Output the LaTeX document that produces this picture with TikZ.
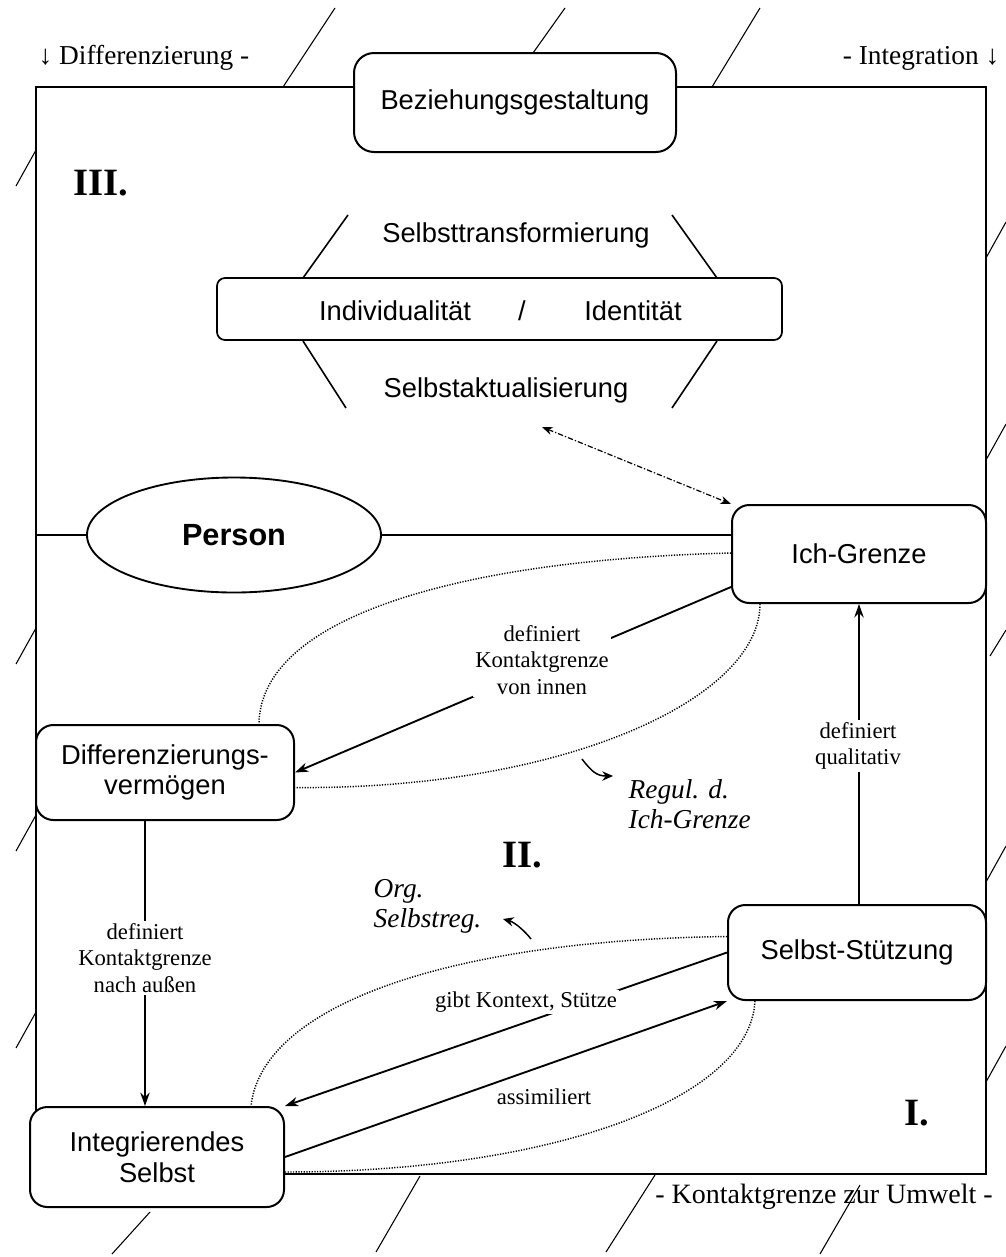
\documentclass[tikz,border=0pt]{standalone}
\usepackage{fontspec}
\setmainfont{Liberation Serif}
\setsansfont{Liberation Sans}
\usetikzlibrary{shapes.geometric,arrows.meta,calc}
\newcommand\fsans{\sffamily\fontsize{20.5}{23}\selectfont}
\newcommand\flab{\rmfamily\fontsize{17}{20}\selectfont}
\newcommand\fital{\rmfamily\itshape\fontsize{20.5}{22.5}\selectfont}
\newcommand\fnum{\rmfamily\bfseries\fontsize{29}{32}\selectfont}
\newcommand\ftop{\rmfamily\fontsize{20.5}{24}\selectfont}
\newcommand\fbot{\rmfamily\fontsize{21}{24}\selectfont}
\begin{document}
\begin{tikzpicture}[x=0.75pt,y=-0.75pt,
  boxnode/.style={draw,line width=1.5pt,rounded corners=13pt,fill=white,align=center,font=\fsans,inner sep=0pt},
  lbl/.style={font=\flab,align=center,inner sep=1.5pt},
  conn/.style={line width=1.4pt},
  arr/.style={conn,-{Stealth[length=10pt,width=7pt]}},
  dotc/.style={line width=1.1pt,dash pattern=on 0.9pt off 1.1pt},
  hatchline/.style={line width=0.8pt},
  smallarr/.style={line width=1.1pt,-{Stealth[length=8pt,width=7pt]}}
]
\fill[white] (0,0) rectangle (1006,1257);
\path[use as bounding box] (0,0) rectangle (1006,1257);

% frame
\draw[line width=1.8pt] (36,87) rectangle (986,1174);

% hatch marks (contact boundary)
\draw[hatchline] (283,87) -- (335,8);
\draw[hatchline] (533,53) -- (565,8);
\draw[hatchline] (712,87) -- (760,8);
\draw[hatchline] (36,150) -- (16,186);
\draw[hatchline] (36,628) -- (16,664);
\draw[hatchline] (36,815) -- (16,851);
\draw[hatchline] (36,1012) -- (16,1048);
\draw[hatchline] (986,258) -- (1006,222);
\draw[hatchline] (986,460) -- (1006,424);
\draw[hatchline] (990,656) -- (1006,630);
\draw[hatchline] (986,882) -- (1006,846);
\draw[hatchline] (986,1082) -- (1006,1046);
\draw[hatchline] (150,1212) -- (112,1254);
\draw[hatchline] (420,1176) -- (376,1252);
\draw[hatchline] (655,1175) -- (606,1252);
\draw[hatchline] (860,1185) -- (820,1254);

% boxes
\node[boxnode,minimum width=241.5pt,minimum height=74.25pt,rounded corners=15pt] (bez) at (515,102.5) {Beziehungsgestaltung};
\node[boxnode,minimum width=423.75pt,minimum height=46.5pt,rounded corners=6pt,line width=1.3pt] (ind) at (499.5,309) {};
\node[font=\fsans] (tind) at (395,311) {Individualität};
\node[font=\fsans] (tsl) at (522,311) {/};
\node[font=\fsans] (tide) at (633,311) {Identität};
\node[font=\fsans] (tst) at (516,235) {Selbsttransformierung};
\node[font=\fsans] (tsa) at (506,390) {Selbstaktualisierung};
\draw[line width=1.2pt] (303,278) -- (348,215);
\draw[line width=1.2pt] (717,278) -- (672,215);
\draw[line width=1.2pt] (303,341) -- (346,408);
\draw[line width=1.2pt] (717,341) -- (672,408);

\node[boxnode] (ich) at (859,554) [minimum width=190.5pt,minimum height=73.5pt] {Ich-Grenze};
\node[boxnode] (ss) at (857,952.5) [minimum width=193.5pt,minimum height=71.25pt] {Selbst-Stützung};
\node[boxnode,font=\sffamily\fontsize{20.5}{22.5}\selectfont] (d) at (165,772.5) [minimum width=193.5pt,minimum height=71.25pt] {Differenzierungs-\\vermögen};
\node[boxnode,font=\sffamily\fontsize{20.5}{23}\selectfont] (ib) at (157,1157) [minimum width=190.5pt,minimum height=75pt] {Integrierendes\\Selbst};
\node[draw,ellipse,line width=1.4pt,fill=white,minimum width=220.5pt,minimum height=86.25pt,inner sep=0pt,font=\sffamily\bfseries\fontsize{23}{26}\selectfont] (per) at (234,535) {Person};

% Person line
\coordinate (fl) at (36,535);
\draw[conn] (fl) -- (per.west);
\draw[conn] (per.east) -- (per.east -| ich.west);

% dash-dotted double arrow
\coordinate (sa) at (542,427);
\draw[line width=0.9pt,dash pattern=on 4pt off 1.5pt on 1pt off 1.5pt,{Stealth[length=8pt,width=6pt]}-{Stealth[length=8pt,width=6pt]}] (sa) -- (ich.north west);

% dotted loops
\coordinate (a1) at ($(ich.west)+(0,-1)$);
\coordinate (a2) at ($(d.north)+(94,0)$);
\draw[dotc] (a1) .. controls (450,560) and (260,620) .. (a2);
\coordinate (b1) at ($(ich.south)+(-99,0)$);
\coordinate (b2) at ($(d.east)+(0,15)$);
\draw[dotc] (b1) .. controls (760,700) and (560,790) .. (b2);
\coordinate (c1) at ($(ss.west)+(0,-16)$);
\coordinate (c2) at ($(ib.north)+(94,0)$);
\draw[dotc] (c1) .. controls (450,940) and (262,1005) .. (c2);
\coordinate (e1) at ($(ss.south)+(-102,0)$);
\coordinate (e2) at ($(ib.east)+(0,15)$);
\draw[dotc] (e1) .. controls (750,1100) and (550,1172) .. (e2);

% connectors
\draw[arr] ($(ich.west)+(0,33)$) -- (d.east);
\draw[arr] (ss.north -| ich.south) -- (ich.south);
\coordinate (ka) at ($(d.south)+(-20,0)$);
\draw[arr] (ka) -- (ka |- ib.north);
\draw[arr] (ss.west) -- (ib.north east);
\draw[arr] (ib.east) -- (ss.south west);

% small curved arrows
\coordinate (r1) at (582,759);
\coordinate (r2) at (613,776);
\draw[smallarr] (r1) .. controls (592,772) and (597,776) .. (r2);
\coordinate (o1) at (531,939);
\coordinate (o2) at (503,919);
\draw[smallarr] (o1) .. controls (524,930) and (514,922) .. (o2);

% labels
\node[lbl,fill=white] (l1) at (542,660) {definiert\\Kontaktgrenze\\von innen};
\node[lbl,fill=white] (l2) at (858,746) {definiert\\qualitativ};
\node[lbl,fill=white] (l3) at (145,958) {definiert\\Kontaktgrenze\\nach außen};
\node[lbl,fill=white] (l4) at (526,1002) {gibt Kontext, Stütze};
\node[lbl] (l5) at (544,1097) {assimiliert};

\node[font=\fital,align=left,anchor=west] (reg) at (624,804) {Regul. d.\\Ich-Grenze};
\node[font=\fital,align=left,anchor=west] (org) at (369,906) {Org.\\Selbstreg.};

\node[font=\fnum] (n3) at (101,183) {III.};
\node[font=\fnum] (n2) at (522,855) {II.};
\node[font=\fnum] (n1) at (917,1113) {I.};

\node[font=\ftop,anchor=west] (tdiff) at (34,58) {↓ Differenzierung -};
\node[font=\ftop,anchor=east] (tint) at (1004,58) {- Integration ↓};
\node[font=\fbot] (tkon) at (824,1197) {- Kontaktgrenze zur Umwelt -};
\end{tikzpicture}
\end{document}
